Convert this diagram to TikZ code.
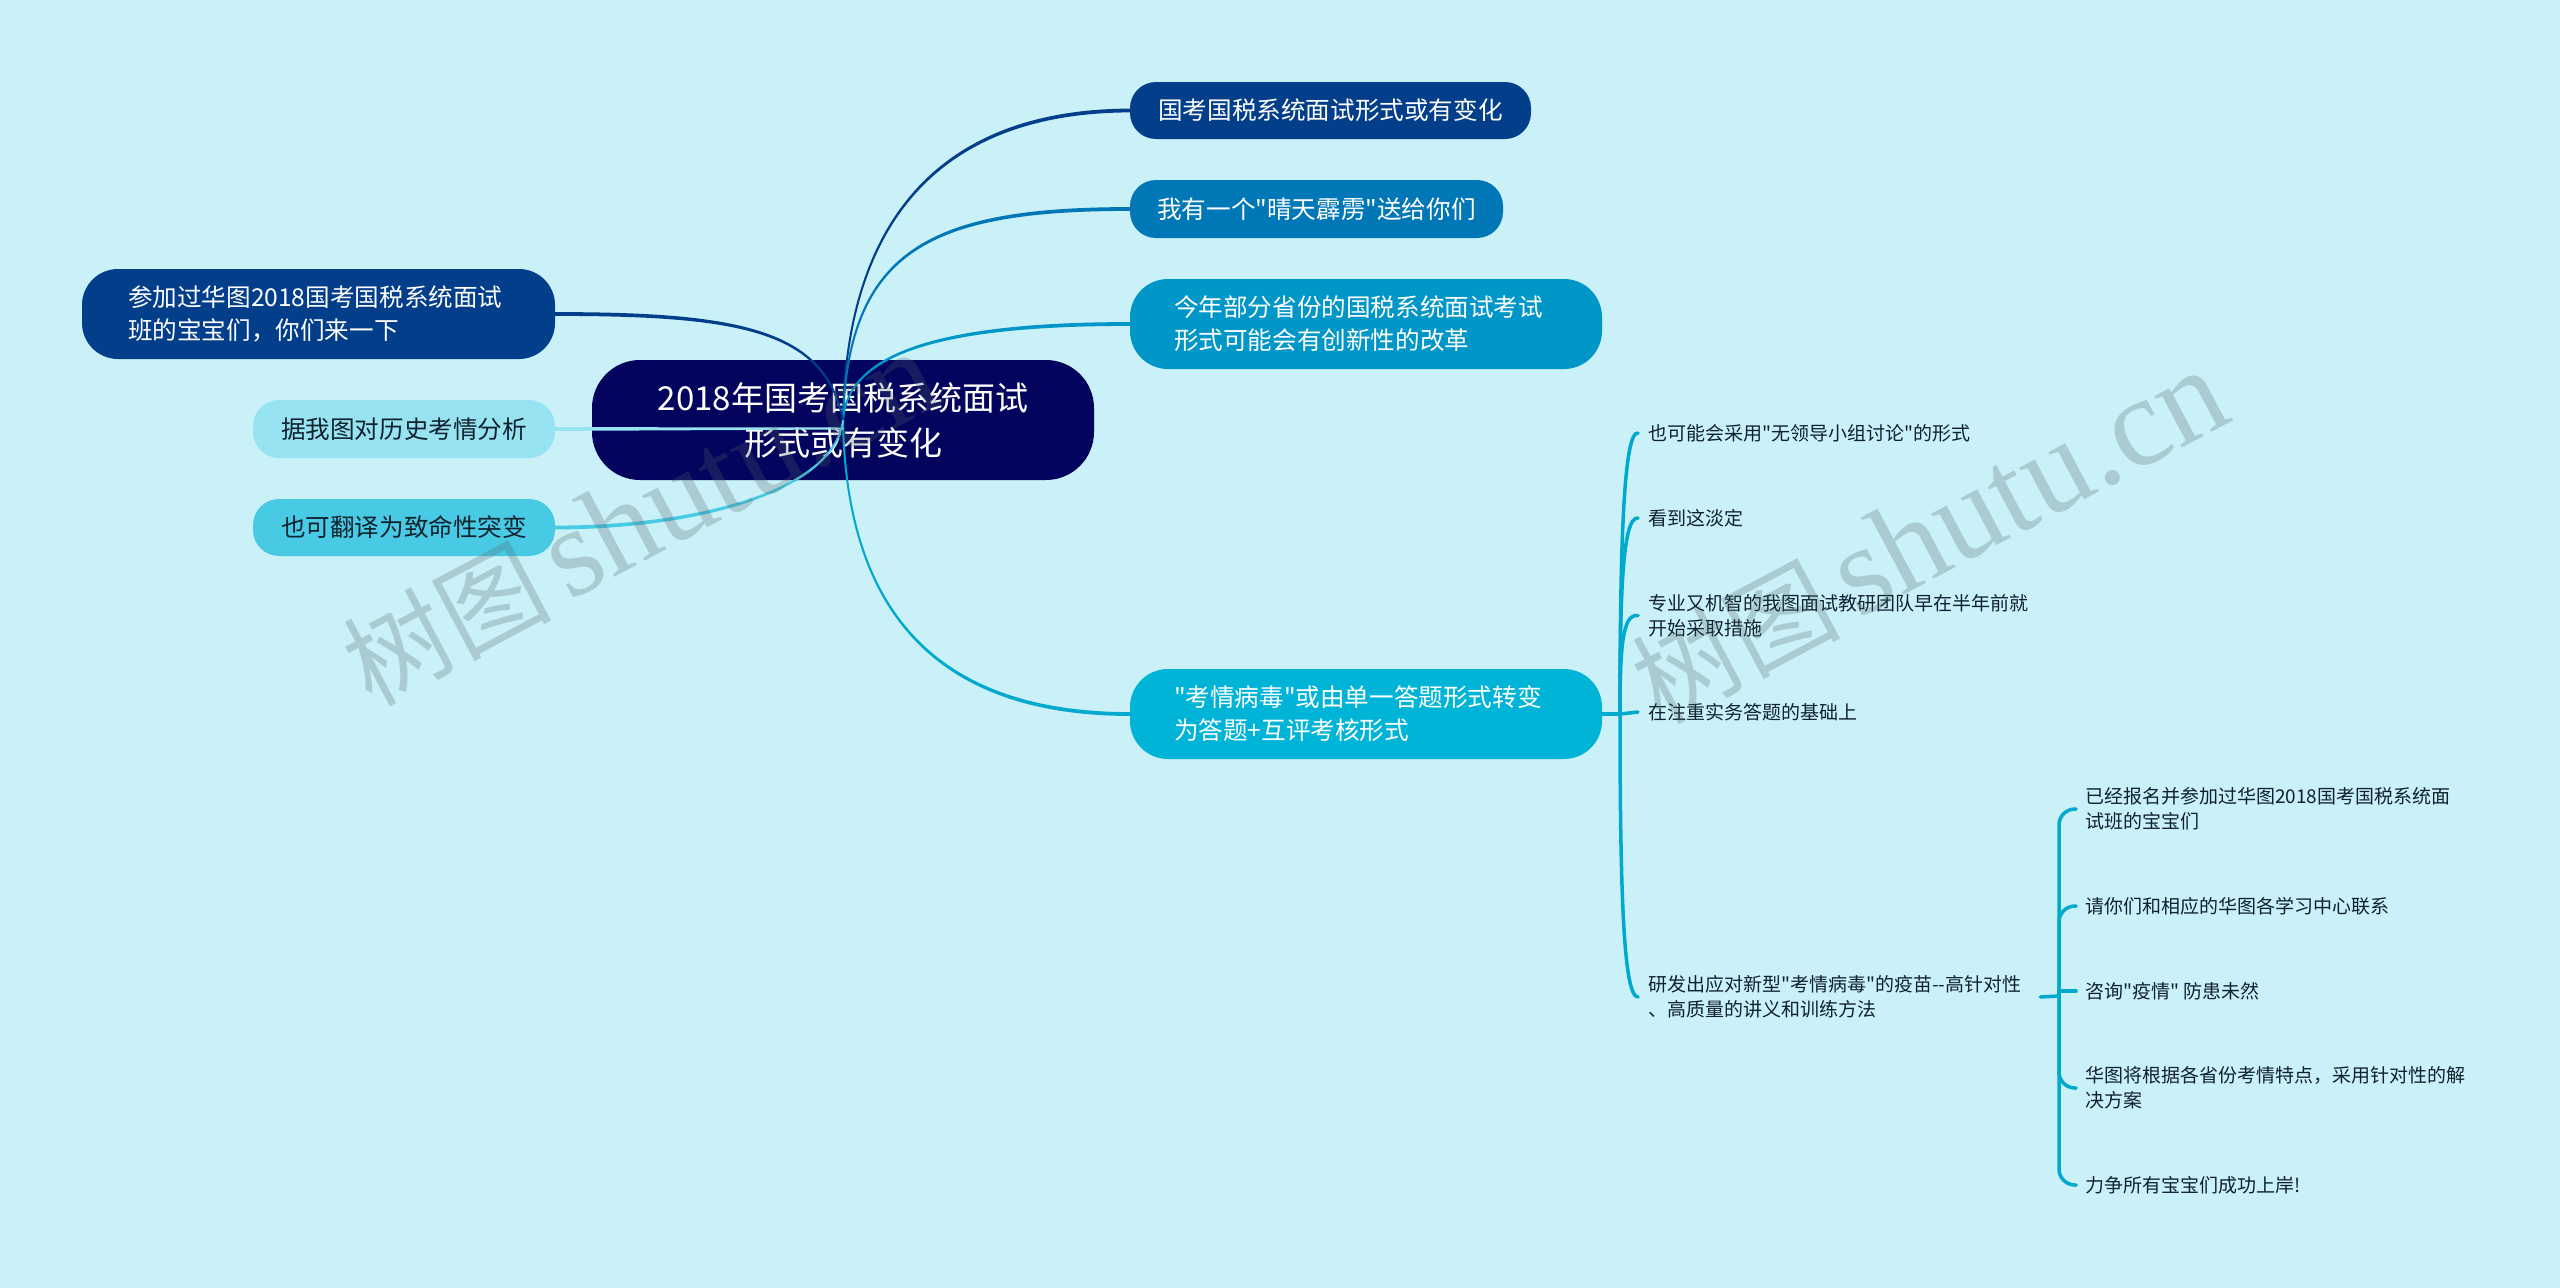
\documentclass[tikz,border=0pt]{standalone}
\usepackage{fontspec}
\usetikzlibrary{calc}
\newfontfamily\cjkplain{Noto Sans CJK SC}
\newfontfamily\wmlatin{Liberation Serif}
\definecolor{bgc}{HTML}{CAF0F8}
\definecolor{c0}{HTML}{03045E}
\definecolor{c1}{HTML}{023E8A}
\definecolor{c2}{HTML}{0077B6}
\definecolor{c3}{HTML}{0096C7}
\definecolor{c4}{HTML}{00B4D8}
\definecolor{c5}{HTML}{48CAE4}
\definecolor{c6}{HTML}{97E3F1}
\definecolor{lk}{HTML}{00A9CD}
\definecolor{ink}{HTML}{10222E}
\definecolor{wmc}{HTML}{506464}
\tikzset{
  x=1pt,y=-1pt,
  pillbox/.style={rectangle,rounded corners=#1,inner sep=0pt,align=left,text=white,
    font=\cjkplain\fontsize{24.6}{33}\selectfont},
  rootbox/.style={pillbox=48pt,fill=c0,minimum width=502pt,minimum height=120pt,align=center,
    font=\cjkplain\fontsize{33}{45}\selectfont},
  leafbox/.style={anchor=west,inner ysep=0pt,inner xsep=10pt,align=left,text=ink,
    font=\cjkplain\fontsize{19}{25}\selectfont},
  subbox/.style={leafbox,inner xsep=9pt},
  link/.style={line width=#1,line cap=round},
  link/.default=3.5pt,
  taper/.style={line width=2pt,line join=round,draw=#1,fill=#1},
  wmark/.style={text=wmc,text opacity=0.26,rotate=28,inner sep=0pt}
}
% #1 colour, #2 first control, #3 and #4 second control x and y, #5 target node anchor
\newcommand{\taperlink}[5]{%
  \draw[taper=#1] (hub) .. controls (#2) and (#3,#4-0.9) .. ($(#5)+(0,-0.9)$) -- ($(#5)+(0,0.9)$)
    .. controls (#3,#4+0.9) and (#2) .. (hub);}
\begin{document}
\begin{tikzpicture}
\useasboundingbox (0,0) rectangle (2560,1288);
\fill[bgc] (0,0) rectangle (2560,1288);

\node[rootbox] (root) at (843,420) {2018年国考国税系统面试\\形式或有变化};
\node[pillbox=26pt,fill=c1,minimum width=401pt,minimum height=57pt] (n1) at (1330.5,110.5) {国考国税系统面试形式或有变化};
\node[pillbox=26pt,fill=c2,minimum width=373pt,minimum height=58pt] (n2) at (1316.5,209) {我有一个"晴天霹雳"送给你们};
\node[pillbox=38pt,fill=c3,inner xsep=44pt,text width=384pt,minimum height=90pt] (n3) at (1366,324) {\mbox{今年部分省份的国税系统面试考试}\\形式可能会有创新性的改革};
\node[pillbox=38pt,fill=c4,inner xsep=44pt,text width=384pt,minimum height=90pt] (n4) at (1366,714) {\mbox{"考情病毒"或由单一答题形式转变}\\为答题+互评考核形式};
\node[pillbox=36pt,fill=c1,inner xsep=46pt,text width=381pt,minimum height=90pt] (l1) at (318.5,314) {\mbox{参加过华图2018国考国税系统面试}\\班的宝宝们，你们来一下};
\node[pillbox=26pt,fill=c6,text=ink,minimum width=302pt,minimum height=58pt] (l2) at (404,429) {据我图对历史考情分析};
\node[pillbox=26pt,fill=c5,text=ink,minimum width=302pt,minimum height=57pt] (l3) at (404,527.5) {也可翻译为致命性突变};

\node[leafbox] (a1) at (1638,433) {也可能会采用"无领导小组讨论"的形式};
\node[leafbox] (a2) at (1638,518) {看到这淡定};
\node[leafbox] (a3) at (1638,615.5) {专业又机智的我图面试教研团队早在半年前就\\开始采取措施};
\node[leafbox] (a4) at (1638,712) {在注重实务答题的基础上};
\node[leafbox,text width=382pt] (a5) at (1638,997) {\mbox{研发出应对新型"考情病毒"的疫苗--高针对性}\\、高质量的讲义和训练方法};

\node[subbox] (s1) at (2076,809) {已经报名并参加过华图2018国考国税系统面\\试班的宝宝们};
\node[subbox] (s2) at (2076,906) {请你们和相应的华图各学习中心联系};
\node[subbox] (s3) at (2076,991) {咨询"疫情" 防患未然};
\node[subbox] (s4) at (2076,1088) {华图将根据各省份考情特点，采用针对性的解\\决方案};
\node[subbox] (s5) at (2076,1185) {力争所有宝宝们成功上岸!};

\coordinate (hub) at (843,420);
\coordinate (hubb) at (843,428.5);
\coordinate (tr) at (1620,714);
\coordinate (sb) at (2059,996);

\taperlink{c1}{846,210}{950}{111}{n1.west}
\taperlink{c2}{848,250}{930}{209}{n2.west}
\taperlink{c3}{848,350}{950}{324}{n3.west}
\taperlink{lk}{846,620}{945}{714}{n4.west}
\taperlink{c1}{825,330}{740}{314}{l1.east}
\draw[taper=c6] (hubb) -- ($(l2.east)+(0,-0.9)$) -- ($(l2.east)+(0,0.9)$) -- cycle;
\taperlink{c5}{835,490}{700}{527.5}{l3.east}

\draw[link,lk] (n4.east) -- (tr);
\draw[link,lk] (tr) .. controls (1620,540) and (1624,431) .. (a1.west);
\draw[link,lk] (tr) .. controls (1620,600) and (1622,516) .. (a2.west);
\draw[link,lk] (tr) .. controls (1620,650) and (1622,613) .. (a3.west);
\draw[link,lk] (tr) -- (a4.west);
\draw[link,lk] (tr) .. controls (1620,900) and (1624,997) .. (a5.west);

\draw[link,lk] (a5.east) -- (sb);
\draw[link,lk,rounded corners=16pt] (sb) |- (s1.west);
\draw[link,lk,rounded corners=16pt] (sb) |- (s2.west);
\draw[link,lk] (sb) |- (s3.west);
\draw[link,lk,rounded corners=16pt] (sb) |- (s4.west);
\draw[link,lk,rounded corners=16pt] (sb) |- (s5.west);

\node[wmark] (w1) at (640,519) {\cjkplain\fontsize{104}{118}\selectfont 树图\hspace{16pt}\wmlatin\fontsize{127}{118}\selectfont shutu.cn};
\node[wmark] (w2) at (1929,537) {\cjkplain\fontsize{104}{118}\selectfont 树图\hspace{16pt}\wmlatin\fontsize{127}{118}\selectfont shutu.cn};
\end{tikzpicture}
\end{document}
